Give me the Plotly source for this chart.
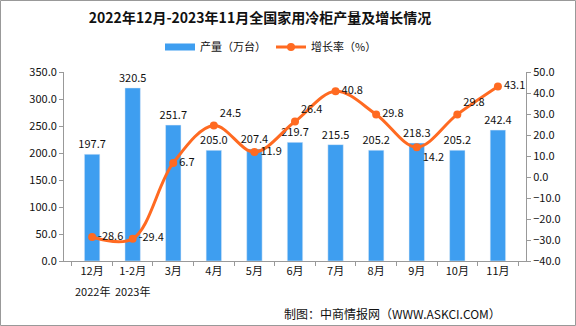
import plotly.graph_objects as go

categories = ["12月", "1-2月", "3月", "4月", "5月", "6月", "7月", "8月", "9月", "10月", "11月"]
year_labels = {"12月": "2022年", "1-2月": "2023年"}
production = [197.7, 320.5, 251.7, 205.0, 207.4, 219.7, 215.5, 205.2, 218.3, 205.2, 242.4]
growth = [-28.6, -29.4, 6.7, 24.5, 11.9, 26.4, 40.8, 29.8, 14.2, 29.8, 43.1]
growth_text_pos = ["middle right", "middle right", "middle right", "top right", "middle right",
                   "top right", "middle right", "middle right", "bottom right", "top right", "middle right"]

W, H = 576, 326
L, R, T, B = 64, 50, 72, 65
pw, ph = W - L - R, H - T - B

font_fam = "Noto Sans CJK SC, DejaVu Sans, sans-serif"
bar_color = "#3E9EF0"
line_color = "#FF6A21"

fig = go.Figure()
fig.add_trace(go.Bar(
    x=categories, y=production, name="产量（万台）", showlegend=False,
    marker_color=bar_color, text=[f"{v:.1f}" for v in production],
    textposition="outside", cliponaxis=False, constraintext="none",
    textfont=dict(size=11, color="#111", family=font_fam),
))
fig.add_trace(go.Scatter(
    x=[None], y=[None], name="产量（万台）", mode="lines",
    line=dict(color=bar_color, width=7), showlegend=True,
))
fig.add_trace(go.Scatter(
    x=categories, y=growth, name="增长率（%）", yaxis="y2",
    mode="lines+markers+text", line=dict(color=line_color, width=3, shape="spline", smoothing=1.0),
    marker=dict(size=8, color=line_color),
    text=[f"{v:.1f}" for v in growth], textposition=growth_text_pos,
    textfont=dict(size=11, color="#111", family=font_fam), cliponaxis=False,
))

fig.update_layout(
    width=W, height=H,
    margin=dict(l=L, r=R, t=T, b=B),
    paper_bgcolor="white", plot_bgcolor="white",
    font=dict(family=font_fam, size=11, color="#111"),
    title=dict(text="<b>2022年12月-2023年11月全国家用冷柜产量及增长情况</b>",
               x=260 / W, xanchor="center", y=1 - 18 / H, yanchor="middle",
               font=dict(size=14, color="#111", family=font_fam)),
    legend=dict(orientation="h", x=(160 - L) / pw, xanchor="left", y=1 + (T - 47) / ph, yanchor="middle",
                font=dict(size=11), bgcolor="rgba(0,0,0,0)"),
    bargap=0.62,
    showlegend=True,
    xaxis=dict(showline=True, linecolor="#999", ticks="outside", ticklen=4, tickcolor="#999",
               tickson="boundaries", showgrid=False, tickfont=dict(size=11), tickangle=0),
    yaxis=dict(range=[0, 350], dtick=50, tickformat=".1f", showline=True, linecolor="#999",
               ticks="outside", ticklen=4, tickcolor="#999", showgrid=False, zeroline=False,
               tickfont=dict(size=11)),
    yaxis2=dict(range=[-40, 50], dtick=10, tickformat=".1f", overlaying="y", side="right",
                showline=True, linecolor="#999", ticks="outside", ticklen=4, tickcolor="#999",
                showgrid=False, zeroline=False, tickfont=dict(size=11)),
)

for cat, yr in year_labels.items():
    fig.add_annotation(text=yr, x=cat, xref="x", yref="paper", y=-(291 - (T + ph)) / ph,
                       yanchor="middle", showarrow=False, font=dict(size=11, color="#111"))

fig.add_annotation(text="制图：中商情报网（WWW.ASKCI.COM）", xref="paper", yref="paper",
                   x=(503 - L) / pw, xanchor="right", y=-(313 - (T + ph)) / ph, yanchor="middle",
                   showarrow=False, font=dict(size=12, color="#111"))
fig.add_shape(type="rect", xref="paper", yref="paper",
              x0=-(L - 0.5) / pw, x1=1 + (R - 0.5) / pw, y0=-(B - 0.5) / ph, y1=1 + (T - 0.5) / ph,
              line=dict(color="#999", width=1))

fig.write_html("out.html")
